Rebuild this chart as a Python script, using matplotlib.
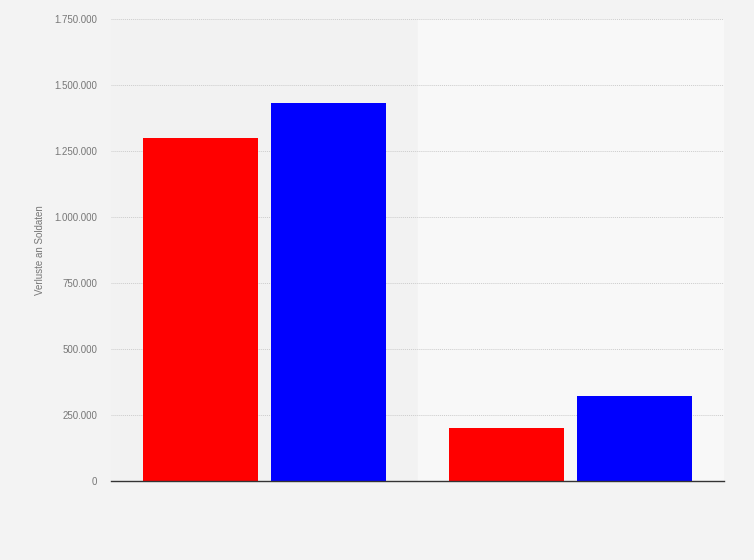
import numpy as np
import matplotlib
matplotlib.use('Agg')
import matplotlib.pyplot as plt
from matplotlib.ticker import FuncFormatter

# Data
categories = ['Gruppe 1', 'Gruppe 2']
series_names = ['Reihe A', 'Reihe B']
red_values = [1300000, 200000]
blue_values = [1432000, 322000]
y_ticks = [0, 250000, 500000, 750000, 1000000, 1250000, 1500000, 1750000]

plt.rcParams['font.family'] = ['Liberation Sans', 'DejaVu Sans']

fig = plt.figure(figsize=(7.54, 5.60), dpi=100)
fig.patch.set_facecolor('#f3f3f3')
ax = fig.add_axes([111/754, 1 - 481/560, (724 - 111)/754, (481 - 19)/560])
ax.set_facecolor('#f2f2f2')

x = np.arange(len(categories))
width = 0.375
offset = 0.2085

# alternating category bands
for i in x:
    if i % 2 == 1:
        ax.axvspan(i - 0.5, i + 0.5, color='#f8f8f8', zorder=0)

ax.bar(x - offset, red_values, width, color='#ff0000', label=series_names[0], zorder=3)
ax.bar(x + offset, blue_values, width, color='#0000ff', label=series_names[1], zorder=3)

ax.set_xlim(-0.5, len(categories) - 0.5)
ax.set_ylim(0, 1750000)
ax.set_yticks(y_ticks)
ax.yaxis.set_major_formatter(FuncFormatter(lambda v, p: f'{int(v):,}'.replace(',', '.')))
ax.set_xticks([])

ax.grid(axis='y', color='#cccccc', linestyle=(0, (1, 1)), linewidth=0.7, zorder=1)
ax.tick_params(axis='y', length=0, pad=10, labelsize=7, labelcolor='#777777')

for side in ['top', 'right', 'left']:
    ax.spines[side].set_visible(False)
ax.spines['bottom'].set_color('#333333')
ax.spines['bottom'].set_linewidth(1.0)
ax.spines['bottom'].set_zorder(4)

ax.set_ylabel('Verluste an Soldaten', fontsize=7, color='#777777')
ax.yaxis.set_label_coords((45 - 111) / 613, 0.5)

fig.savefig('out.png', dpi=100, facecolor=fig.get_facecolor())
